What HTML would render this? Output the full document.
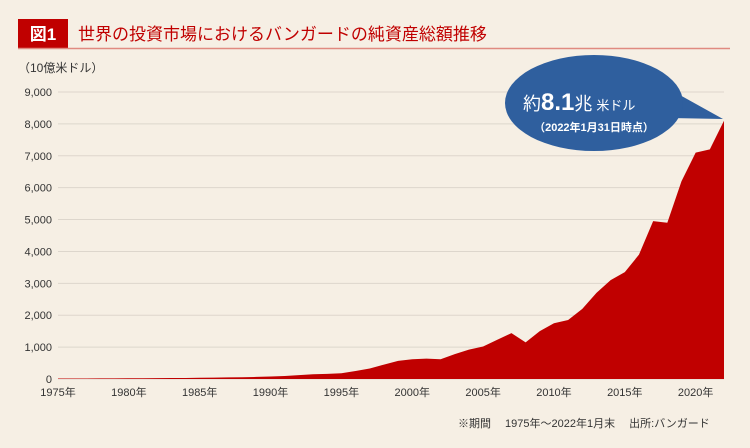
<!DOCTYPE html>
<html><head><meta charset="utf-8"><style>
body{margin:0;background:#f6efe4;}
svg{display:block;font-family:"Liberation Sans","Noto Sans CJK JP",sans-serif;}
</style></head><body>
<svg id="c" width="750" height="448" viewBox="0 0 750 448">
<rect width="750" height="448" fill="#f6efe4"/>
<rect x="18" y="19" width="50" height="29" fill="#c00000"/>
<text x="43" y="40" fill="#fff" font-size="17" font-weight="bold" text-anchor="middle">図1</text>
<text x="78" y="40" fill="#c00000" font-size="17">世界の投資市場におけるバンガードの純資産総額推移</text>
<line x1="18" y1="48.5" x2="730" y2="48.5" stroke="#e08a80" stroke-width="1.5"/>
<text x="18" y="72" font-size="12" fill="#333">（10億米ドル）</text>
<g id="grid"></g>
<g id="area"></g>
<g id="xt"></g>
<g>
<path d="M660 84 L723 119 L670 118 Z" fill="#2f5f9e"/>
<ellipse cx="594" cy="103" rx="89" ry="48" fill="#2f5f9e"/>
<text x="523" y="110" fill="#fff" font-size="18">約<tspan font-size="24" font-weight="bold">8.1</tspan>兆<tspan font-size="13" dx="4">米ドル</tspan></text>
<text x="594" y="131" fill="#fff" font-size="11" font-weight="bold" text-anchor="middle">（2022年1月31日時点）</text>
</g>
<text x="458" y="427" font-size="11" fill="#333">※期間　 1975年～2022年1月末　 出所:バンガード</text>
</svg>
<script>
const years=[1975,1976,1977,1978,1979,1980,1981,1982,1983,1984,1985,1986,1987,1988,1989,1990,1991,1992,1993,1994,1995,1996,1997,1998,1999,2000,2001,2002,2003,2004,2005,2006,2007,2008,2009,2010,2011,2012,2013,2014,2015,2016,2017,2018,2019,2020,2021,2022];
const assets=[15,16,17,18,20,22,24,27,30,33,38,45,50,55,65,80,95,120,150,160,180,250,330,450,570,620,640,620,780,920,1020,1230,1440,1150,1500,1750,1850,2200,2700,3100,3350,3900,4950,4900,6200,7100,7200,8100];
const yTicks=[0,1000,2000,3000,4000,5000,6000,7000,8000,9000];
const xLabels=[1975,1980,1985,1990,1995,2000,2005,2010,2015,2020];
const NS="http://www.w3.org/2000/svg";
const x=v=>58+(v-1975)*(724-58)/(2022-1975);
const y=v=>379-v*(379-92)/9000;
const g=document.getElementById('grid');
yTicks.forEach(t=>{
 const l=document.createElementNS(NS,'line');
 l.setAttribute('x1',58);l.setAttribute('x2',724);l.setAttribute('y1',y(t));l.setAttribute('y2',y(t));
 l.setAttribute('stroke','#ddd6cc');l.setAttribute('stroke-width','1');
 
 
 g.appendChild(l);
 const tx=document.createElementNS(NS,'text');
 tx.setAttribute('x',52);tx.setAttribute('y',y(t)+4);tx.setAttribute('text-anchor','end');
 tx.setAttribute('font-size','11');tx.setAttribute('fill','#333');
 tx.textContent=t.toLocaleString('en-US');
 
 
 g.appendChild(tx);
});
let d='M'+x(years[0])+' '+y(0);
years.forEach((yr,i)=>{d+=' L'+x(yr)+' '+y(assets[i]);});
d+=' L'+x(years[years.length-1])+' '+y(0)+' Z';
const p=document.createElementNS(NS,'path');
p.setAttribute('d',d);p.setAttribute('fill','#c00000');


document.getElementById('area').appendChild(p);
const xt=document.getElementById('xt');
xLabels.forEach(v=>{
 const tx=document.createElementNS(NS,'text');
 tx.setAttribute('x',x(v));tx.setAttribute('y',396);tx.setAttribute('text-anchor','middle');
 tx.setAttribute('font-size','11');tx.setAttribute('fill','#333');
 tx.textContent=v+'年';
 
 
 xt.appendChild(tx);
});
</script>
</body></html>
